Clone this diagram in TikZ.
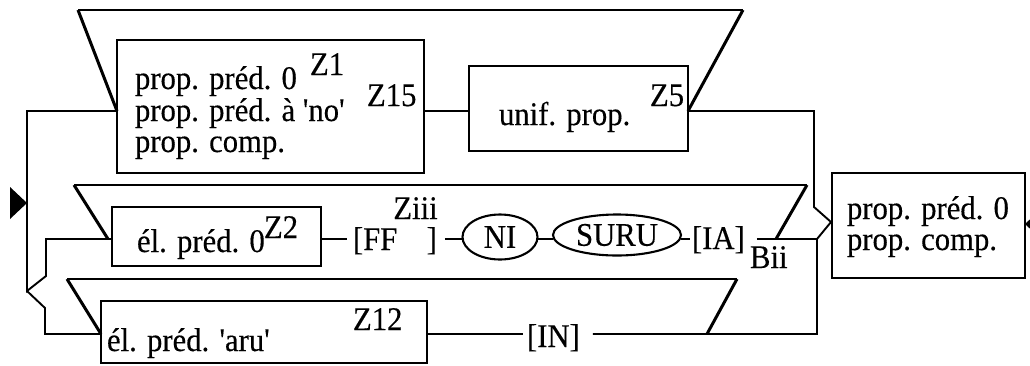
\documentclass[tikz,border=0pt]{standalone}
\usepackage{fontspec}
\setmainfont{Liberation Serif}[Ligatures=TeXOff, FakeStretch=0.93, FakeBold=0.3]
\usetikzlibrary{shapes.geometric}
\begin{document}
\begin{tikzpicture}[x=1pt,y=-1pt,
  every node/.style={font=\fontsize{33}{33}\selectfont, inner sep=0pt, outer sep=0pt},
  boxnode/.style={draw, rectangle, line width=2.3pt, anchor=north west},
  txt/.style={anchor=base west},
  oval/.style={draw, ellipse, line width=2.1pt},
  wire/.style={line width=1.9pt},
  slant/.style={line width=3pt},
  looptop/.style={line width=2pt}]
\useasboundingbox (0,0) rectangle (1030,365);
\clip (0,0) rectangle (1030,365);

% boxes
\node[boxnode, minimum width=307pt, minimum height=133pt] (box1) at (117,40) {};
\node[boxnode, minimum width=219pt, minimum height=85pt] (unif) at (469,66) {};
\node[boxnode, minimum width=209pt, minimum height=59pt] (el0) at (112,207) {};
\node[boxnode, minimum width=326pt, minimum height=62pt] (elaru) at (101,301) {};
\node[boxnode, minimum width=193pt, minimum height=105pt] (boxR) at (832,173) {};

% texts
\node[txt] (t1a) at (135,89) {prop. préd. 0};
\node[txt] (t1b) at (135,121) {prop. préd. à 'no'};
\node[txt] (t1c) at (135,152) {prop. comp.};
\node[txt] (z1) at (310,75) {Z1};
\node[txt] (z15) at (367,106) {Z15};
\node[txt] (tunif) at (499,125) {unif. prop.};
\node[txt] (z5) at (650,106) {Z5};
\node[txt] (tel0) at (137,252) {él. préd. 0};
\node[txt] (z2) at (264,238) {Z2};
\node[txt] (ff) at (353,250) {[FF\hspace{-4pt}\raisebox{31pt}{Ziii}\hspace{-11pt}]};
\node[oval, minimum width=75pt, minimum height=45pt] (ni) at (500,237) {NI};
\node[oval, minimum width=128pt, minimum height=41pt] (suru) at (617,235) {SURU};
\node[txt] (ia) at (692,249) {[IA]};
\node[txt] (bii) at (750,268) {Bii};
\node[txt] (taru) at (107,351) {él. préd. 'aru'};
\node[txt] (z12) at (353,330) {Z12};
\node[txt] (inn) at (527,347) {[IN]};
\node[txt] (tR1) at (847,219) {prop. préd. 0};
\node[txt] (tR2) at (847,250) {prop. comp.};

% coordinates
\coordinate (r1) at (0,111);
\coordinate (r2) at (0,239);
\coordinate (r3) at (0,334);
\coordinate (a1) at (78,10);
\coordinate (a2) at (743,10);
\coordinate (b1) at (74,185);
\coordinate (b2) at (807,185);
\coordinate (c1) at (67,279);
\coordinate (c2) at (737,279);
\coordinate (d1) at (108,239);
\coordinate (d2) at (776,239);
\coordinate (d3) at (707,334);
\coordinate (j2) at (814,207);
\coordinate (jtip) at (831,222);
\coordinate (j3) at (817,239);
\coordinate (j4) at (817,334);
\coordinate (kv) at (27,291);
\coordinate (ku) at (46,276);
\coordinate (kl) at (45,308);

% loops
\draw[looptop] (a1) -- (a2);
\draw[slant] (a1) -- (box1.west|-r1);
\draw[slant] (a2) -- (unif.east|-r1);
\draw[looptop] (b1) -- (b2);
\draw[slant] (b1) -- (d1);
\draw[slant] (b2) -- (d2);
\draw[looptop] (c1) -- (c2);
\draw[slant] (c1) -- (elaru.west|-r3);
\draw[slant] (c2) -- (d3);

% connectors
\draw[wire] (box1.east|-r1) -- (unif.west|-r1);
\draw[wire] (unif.east|-r1) -| (j2) -- (jtip) -- (j3) -- (j4) -- ([xshift=13pt]inn.east|-r3);
\draw[wire] ([xshift=12pt]ia.east|-r2) -- (j3);
\draw[wire] (elaru.east|-r3) -- ([xshift=-4pt]inn.west|-r3);
\draw[wire] (el0.east|-r2) -- ([xshift=-6pt]ff.west|-r2);
\draw[wire] ([xshift=8pt]ff.east|-r2) -- (ni.west|-r2);
\draw[wire] (ni.east|-r2) -- (suru.west|-r2);
\draw[wire] (suru.east|-r2) -- ([xshift=-2pt]ia.west|-r2);
\draw[wire] (box1.west|-r1) -| (kv) -- (ku) |- (el0.west|-r2);
\draw[wire] (kv) -- (kl) |- (elaru.west|-r3);

% arrowheads
\fill (10,187) -- (27,203) -- (10,219) -- cycle;
\fill (1025,224) -- (1042,208) -- (1042,240) -- cycle;
\end{tikzpicture}
\end{document}
